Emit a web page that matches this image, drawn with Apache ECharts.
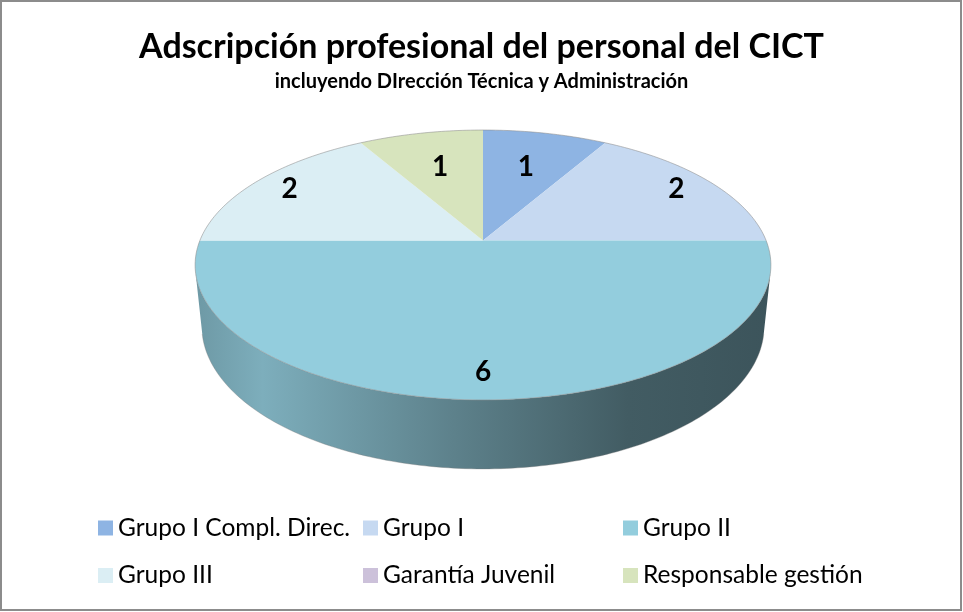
<!DOCTYPE html>
<html>
<head>
<meta charset="utf-8">
<title>Adscripción profesional del personal del CICT</title>
<script src="https://cdn.jsdelivr.net/npm/echarts@6/dist/echarts.min.js"></script>
<style>
  html, body { margin: 0; padding: 0; background: #fff; }
  #main { width: 963px; height: 612px; }
</style>
</head>
<body>
<div id="main"></div>
<script>
// datos
var categories = ['Grupo I Compl. Direc.', 'Grupo I', 'Grupo II', 'Grupo III', 'Garantía Juvenil', 'Responsable gestión'];
var values = [1, 2, 6, 2, 0, 1];
var colors = ['#8eb4e3', '#c6d9f1', '#93cddd', '#dbeef4', '#ccc1da', '#d7e4bd'];

var myChart = echarts.init(document.getElementById('main'));

// perspectiva de la tarta 3D (ajustada a la imagen)
var cx = 483, cy = 240.5;
var f = 1385, D = 4.892, H = 0.2458;
var tilt = 27.45 * Math.PI / 180;
var cosT = Math.cos(tilt), sinT = Math.sin(tilt);
var beta = Math.asin(1 / (D * cosT)) * 180 / Math.PI;   // limite visible del lateral

var total = values.reduce(function (a, b) { return a + b; }, 0);

function project(deg, r, y) {
  var t = deg * Math.PI / 180;
  var X = r * Math.cos(t), Z = r * Math.sin(t);
  var yy = Z * sinT + y * cosT;
  var zz = Z * cosT - y * sinT;
  return [cx + f * X / (D + zz), cy - f * yy / (D + zz)];
}

function shade(hex, k) {
  var n = parseInt(hex.slice(1), 16);
  var r = Math.round(((n >> 16) & 255) * k);
  var g = Math.round(((n >> 8) & 255) * k);
  var b = Math.round((n & 255) * k);
  return 'rgb(' + r + ',' + g + ',' + b + ')';
}

function arc(a0, a1, r, y) {
  var pts = [];
  var n = Math.max(2, Math.ceil(Math.abs(a0 - a1)));
  for (var k = 0; k <= n; k++) {
    pts.push(project(a0 + (a1 - a0) * k / n, r, y));
  }
  return pts;
}

function renderSlice(params, api) {
  var i = params.seriesIndex;
  var v = api.value(0);
  if (!v) return;
  var before = 0;
  for (var j = 0; j < i; j++) before += values[j];
  var a0 = 90 - 360 * before / total;
  var a1 = a0 - 360 * v / total;
  var color = colors[i];
  var children = [];

  // lateral (solo la parte delantera visible)
  var s0 = Math.min(a0, -beta), s1 = Math.max(a1, -180 + beta);
  if (s0 > s1) {
    var upper = arc(s0, s1, 1, 0);
    var lower = arc(s1, s0, 1, -H);
    children.push({
      type: 'polygon',
      z2: 1,
      shape: { points: upper.concat(lower) },
      style: {
        fill: new echarts.graphic.LinearGradient(cx - 290, 0, cx + 290, 0, [
          { offset: 0, color: shade(color, 0.74) },
          { offset: 0.12, color: shade(color, 0.85) },
          { offset: 0.45, color: shade(color, 0.63) },
          { offset: 0.75, color: shade(color, 0.45) },
          { offset: 1, color: shade(color, 0.41) }
        ], true)
      }
    });
    children.push({
      type: 'polyline',
      z2: 2,
      shape: { points: lower },
      style: { stroke: 'rgba(120,120,120,0.35)', lineWidth: 1, fill: null }
    });
  }

  // cara superior
  var rim = arc(a0, a1, 1, 0);
  children.push({
    type: 'polygon',
    z2: 10,
    shape: { points: [project(0, 0, 0)].concat(rim) },
    style: { fill: color }
  });
  children.push({
    type: 'polyline',
    z2: 11,
    shape: { points: rim },
    style: { stroke: 'rgba(140,140,140,0.55)', lineWidth: 1, fill: null }
  });

  // etiqueta
  var mid = (a0 + a1) / 2;
  var rl = (a0 - a1) >= 45 ? 0.85 : 0.65;
  var p = project(mid, rl, 0);
  children.push({
    type: 'text',
    z2: 20,
    style: {
      x: p[0], y: p[1], text: String(v),
      fill: '#000', font: 'bold 28px Lato',
      align: 'center', verticalAlign: 'middle'
    }
  });

  return { type: 'group', children: children };
}

var series = categories.map(function (name, i) {
  return {
    name: name,
    type: 'custom',
    coordinateSystem: 'none',
    silent: true,
    itemStyle: { color: colors[i] },
    renderItem: renderSlice,
    data: [[values[i]]]
  };
});

function legendCol(left, names) {
  return {
    orient: 'vertical',
    left: left,
    top: 515,
    padding: 0,
    icon: 'rect',
    itemWidth: 15,
    itemHeight: 15,
    itemGap: 21.5,
    selectedMode: false,
    textStyle: { fontFamily: 'Lato', fontSize: 24.5, lineHeight: 26, color: '#000' },
    data: names
  };
}

var option = {
  animation: false,
  backgroundColor: '#fff',
  title: [
    {
      text: 'Adscripción profesional del personal del CICT',
      left: 'center',
      top: 26,
      padding: 0,
      textStyle: { fontFamily: 'Lato', fontWeight: 'bold', fontSize: 34, lineHeight: 42, color: '#000' }
    },
    {
      text: 'incluyendo DIrección Técnica y Administración',
      left: 'center',
      top: 71,
      padding: 0,
      textStyle: { fontFamily: 'Lato', fontWeight: 'bold', fontSize: 20, lineHeight: 22, color: '#000' }
    }
  ],
  legend: [
    legendCol(98, [categories[0], categories[3]]),
    legendCol(363, [categories[1], categories[4]]),
    legendCol(623, [categories[2], categories[5]])
  ],
  graphic: [{
    type: 'rect',
    silent: true,
    shape: { x: 1, y: 1, width: 960, height: 609 },
    style: { fill: null, stroke: '#8c8c8c', lineWidth: 2 }
  }],
  series: series
};

myChart.setOption(option);
</script>
</body>
</html>
